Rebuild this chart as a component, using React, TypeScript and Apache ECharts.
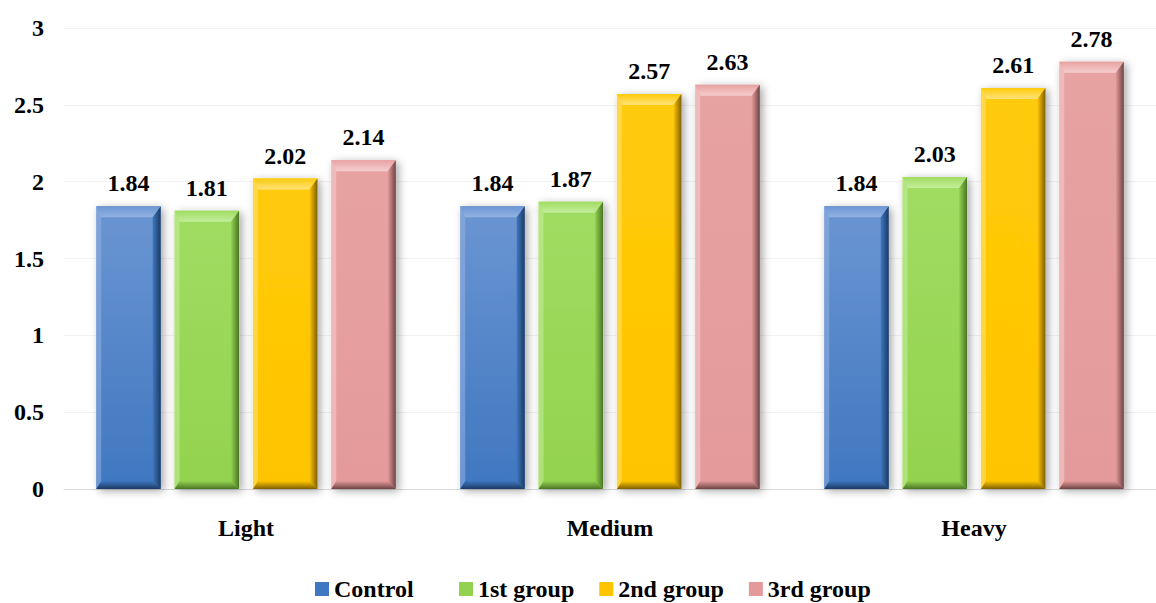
import React, { useEffect, useRef } from "react";
import * as echarts from "echarts";

const categories = ["Light", "Medium", "Heavy"];
const seriesNames = ["Control", "1st group", "2nd group", "3rd group"];
const control = [1.84, 1.84, 1.84];
const group1 = [1.81, 1.87, 2.03];
const group2 = [2.02, 2.57, 2.61];
const group3 = [2.14, 2.63, 2.78];
const seriesValues = [control, group1, group2, group3];

// face (top / bottom), bevel highlight, bevel shade
const palette = [
  { top: "#6b95d2", bottom: "#3f77c0", light: "#93b3e2", dark: "#1c3a63" },
  { top: "#a0dc62", bottom: "#93d24e", light: "#c4ee9c", dark: "#4a7526" },
  { top: "#ffcb0a", bottom: "#ffc400", light: "#ffe27a", dark: "#7f6000" },
  { top: "#e7a2a2", bottom: "#e49a9a", light: "#f6cdcd", dark: "#6e4343" },
];

const FONT = '"Liberation Serif", "Times New Roman", serif';
const FS = 24;

function makeRenderItem(idx: number) {
  const c = palette[idx];
  return (params: any, api: any) => {
    const cat = api.value(0);
    const val = api.value(1);
    const base = api.coord([cat, 0]);
    const topPt = api.coord([cat, val]);
    const catW = api.size([1, 0])[0];
    const w = (catW * 65) / 367;
    const pitch = (catW * 79) / 367;
    const cx = base[0] + (idx - 1.5) * pitch;
    const x = cx - w / 2;
    const y = topPt[1];
    const h = base[1] - topPt[1];
    const bt = 11, bl = 5, br = 8, bb = 8;
    const ix0 = x + bl, ix1 = x + w - br, iy0 = y + bt, iy1 = y + h - bb;
    return {
      type: "group",
      children: [
        {
          type: "rect",
          shape: { x, y, width: w, height: h },
          style: {
            fill: new echarts.graphic.LinearGradient(0, 0, 0, 1, [
              { offset: 0, color: c.top },
              { offset: 1, color: c.bottom },
            ]),
            shadowBlur: 9,
            shadowOffsetX: 3,
            shadowOffsetY: 2,
            shadowColor: "rgba(0,0,0,0.35)",
          },
        },
        {
          type: "polygon",
          shape: { points: [[x, y], [x + w, y], [ix1, iy0], [ix0, iy0]] },
          style: {
            fill: new echarts.graphic.LinearGradient(0, 0, 0, 1, [
              { offset: 0, color: c.top },
              { offset: 1, color: c.light },
            ]),
          },
        },
        {
          type: "polygon",
          shape: { points: [[x, y], [ix0, iy0], [ix0, iy1], [x, y + h]] },
          style: { fill: c.light, opacity: 0.55 },
        },
        {
          type: "polygon",
          shape: { points: [[x + w, y], [x + w, y + h], [ix1, iy1], [ix1, iy0]] },
          style: {
            fill: new echarts.graphic.LinearGradient(0, 0, 1, 0, [
              { offset: 0, color: c.bottom },
              { offset: 1, color: c.dark },
            ]),
          },
        },
        {
          type: "polygon",
          shape: { points: [[x, y + h], [x + w, y + h], [ix1, iy1], [ix0, iy1]] },
          style: {
            fill: new echarts.graphic.LinearGradient(0, 0, 0, 1, [
              { offset: 0, color: c.bottom },
              { offset: 1, color: c.dark },
            ]),
          },
        },
        {
          type: "text",
          x: cx,
          y: y - 11,
          style: {
            text: String(val),
            align: "center",
            verticalAlign: "bottom",
            font: `bold ${FS}px ${FONT}`,
            fill: "#000",
          },
        },
      ],
    };
  };
}

const legendText = {
  fontFamily: FONT,
  fontWeight: "bold",
  fontSize: FS,
  lineHeight: 22,
  color: "#000",
};

export default function App() {
  const ref = useRef<HTMLDivElement>(null);
  useEffect(() => {
    if (!ref.current) return;
    const chart = echarts.init(ref.current, null, { renderer: "svg" });
    chart.setOption({
      animation: false,
      backgroundColor: "#fff",
      grid: { left: 64, right: -9, top: 28, bottom: 114, containLabel: false },
      legend: [
        {
          left: 315,
          top: 577,
          padding: 0,
          icon: "rect",
          itemWidth: 14,
          itemHeight: 14,
          data: [seriesNames[0]],
          textStyle: legendText,
        },
        {
          left: 459,
          top: 577,
          padding: 0,
          icon: "rect",
          itemWidth: 14,
          itemHeight: 14,
          itemGap: 25,
          data: seriesNames.slice(1),
          textStyle: legendText,
        },
      ],
      xAxis: {
        type: "category",
        data: categories,
        axisTick: { show: false },
        axisLine: { lineStyle: { color: "#d9d9d9", width: 1 } },
        axisLabel: { margin: 27, fontFamily: FONT, fontWeight: "bold", fontSize: FS, color: "#000" },
      },
      yAxis: {
        type: "value",
        min: 0,
        max: 3,
        interval: 0.5,
        axisLine: { show: false },
        axisTick: { show: false },
        splitLine: { lineStyle: { color: "#f2f2f2" } },
        axisLabel: { margin: 20, fontFamily: FONT, fontWeight: "bold", fontSize: FS, color: "#000" },
      },
      series: seriesNames.map((name, i) => ({
        name,
        type: "custom",
        itemStyle: { color: palette[i].bottom },
        encode: { x: 0, y: 1 },
        data: seriesValues[i].map((v, k) => [k, v]),
        renderItem: makeRenderItem(i),
      })),
    });
    return () => chart.dispose();
  }, []);
  return (
    <div
      ref={ref}
      style={{ position: "fixed", left: 0, top: 0, width: 1156, height: 603 }}
    />
  );
}
